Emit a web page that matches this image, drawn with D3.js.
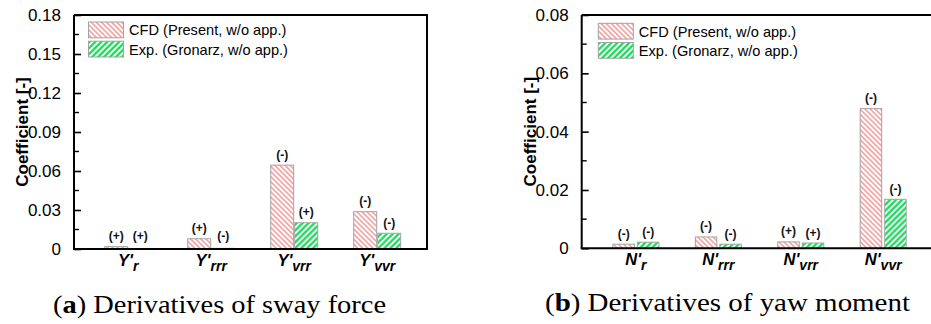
<!DOCTYPE html>
<html>
<head>
<meta charset="utf-8">
<script src="https://cdn.jsdelivr.net/npm/d3@7"></script>
<style>
  html, body { margin: 0; padding: 0; background: #fff; }
  svg { display: block; }
</style>
</head>
<body>
<svg id="chart" width="931" height="324"></svg>
<script>
// Hydrodynamic derivative magnitudes (CFD vs. experiment)
const swayCategories = ["r", "rrr", "vrr", "vvr"];
const swayCFD = [0.0018, 0.0079, 0.0645, 0.0287];
const swayExp = [0.0002, 0.0005, 0.0202, 0.0121];
const swayCFDSign = ["(+)", "(+)", "(-)", "(-)"];
const swayExpSign = ["(+)", "(-)", "(+)", "(-)"];
const swayTicks = [0, 0.03, 0.06, 0.09, 0.12, 0.15, 0.18];

const yawCategories = ["r", "rrr", "vrr", "vvr"];
const yawCFD = [0.0014, 0.0039, 0.0022, 0.0479];
const yawExp = [0.0021, 0.0014, 0.0018, 0.0168];
const yawCFDSign = ["(-)", "(-)", "(+)", "(-)"];
const yawExpSign = ["(-)", "(-)", "(+)", "(-)"];
const yawTicks = [0, 0.02, 0.04, 0.06, 0.08];

const seriesNames = ["CFD (Present, w/o app.)", "Exp. (Gronarz, w/o app.)"];
const captions = [["a", " Derivatives of sway force"], ["b", " Derivatives of yaw moment"]];

const svg = d3.select("#chart");
const SANS = "'Liberation Sans', Arial, sans-serif";
const SERIF = "'Liberation Serif', 'Times New Roman', serif";

// hatch fills
const defs = svg.append("defs");
function hatch(id, color, angle, spacing, lw) {
  const p = defs.append("pattern")
    .attr("id", id)
    .attr("patternUnits", "userSpaceOnUse")
    .attr("width", spacing).attr("height", spacing)
    .attr("patternTransform", `rotate(${angle})`);
  p.append("rect").attr("width", spacing).attr("height", spacing).attr("fill", "#fff");
  p.append("line")
    .attr("x1", spacing / 2).attr("y1", 0)
    .attr("x2", spacing / 2).attr("y2", spacing)
    .attr("stroke", color).attr("stroke-width", lw);
}
hatch("hatchRed", "#f08888", -45, 3.6, 1.3);
hatch("hatchGreen", "#10dc55", 45, 4.2, 2.2);
const fills = ["url(#hatchRed)", "url(#hatchGreen)"];

function panel(cfg) {
  const g = svg.append("g");
  const y = d3.scaleLinear().domain([0, cfg.ticks[cfg.ticks.length - 1]]).range([cfg.bottom, cfg.top]);
  const x = d3.scalePoint().domain(cfg.categories).range([cfg.left + 54.2, cfg.right - 49.8]);

  // bars and sign labels
  const series = [cfg.cfd, cfg.exp];
  const signs = [cfg.cfdSign, cfg.expSign];
  series.forEach((vals, s) => {
    const barX = i => x(cfg.categories[i]) + (s === 0 ? -cfg.gap / 2 - cfg.bw : cfg.gap / 2);
    g.selectAll(null).data(vals).enter().append("rect")
      .attr("x", (d, i) => barX(i))
      .attr("y", d => y(d))
      .attr("width", cfg.bw)
      .attr("height", d => y(0) - y(d))
      .attr("fill", fills[s])
      .attr("stroke", "#a3a3a3")
      .attr("stroke-width", 1);
    g.selectAll(null).data(vals).enter().append("text")
      .attr("x", (d, i) => barX(i) + cfg.bw / 2)
      .attr("y", d => Math.min(y(d), y(0) - 3) - 6.5)
      .attr("text-anchor", "middle")
      .attr("font-family", SANS).attr("font-weight", "bold").attr("font-size", 12)
      .attr("fill", "#111")
      .text((d, i) => signs[s][i]);
  });

  // y axis with inward ticks
  const yAxis = d3.axisLeft(y).tickValues(cfg.ticks).tickSizeInner(-7).tickSizeOuter(0)
    .tickPadding(13).tickFormat(d => d === 0 ? "0" : d3.format("." + cfg.dec + "f")(d));
  const ya = g.append("g").attr("transform", `translate(${cfg.left},0)`).call(yAxis);
  ya.select(".domain").remove();
  ya.selectAll("line").attr("stroke", "#000").attr("stroke-width", 1.6);
  ya.selectAll("text").attr("font-family", SANS).attr("font-size", 17).attr("fill", "#000");
  const minors = d3.range(cfg.minor, cfg.ticks[cfg.ticks.length - 1], cfg.minor * 2);
  g.selectAll(null).data(minors).enter().append("line")
    .attr("x1", cfg.left).attr("x2", cfg.left + 5)
    .attr("y1", d => y(d)).attr("y2", d => y(d))
    .attr("stroke", "#000").attr("stroke-width", 1.4);

  // frame
  const fr = g.append("g").attr("stroke", "#000").attr("stroke-width", 2).attr("fill", "none");
  fr.append("line").attr("x1", cfg.left).attr("x2", cfg.left).attr("y1", cfg.top).attr("y2", cfg.bottom);
  fr.append("line").attr("x1", cfg.left).attr("x2", cfg.frameRight).attr("y1", cfg.top).attr("y2", cfg.top);
  fr.append("line").attr("x1", cfg.left - 1).attr("x2", cfg.frameRight).attr("y1", cfg.bottom).attr("y2", cfg.bottom);
  if (cfg.frameRight < 931) {
    fr.append("line").attr("x1", cfg.frameRight).attr("x2", cfg.frameRight).attr("y1", cfg.top - 1).attr("y2", cfg.bottom + 1);
  }

  // x category labels: prefix with subscript
  cfg.categories.forEach(c => {
    const t = g.append("text")
      .attr("x", x(c)).attr("y", cfg.bottom + 17)
      .attr("text-anchor", "middle")
      .attr("font-family", SANS).attr("font-weight", "bold").attr("font-style", "italic")
      .attr("font-size", 16.5).attr("fill", "#000");
    t.append("tspan").text(cfg.prefix + "'");
    t.append("tspan").attr("font-size", 14).attr("dy", 5).text(c);
  });

  // y title
  g.append("text")
    .attr("transform", `translate(${cfg.titleX},${(cfg.top + cfg.bottom) / 2}) rotate(-90)`)
    .attr("text-anchor", "middle")
    .attr("font-family", SANS).attr("font-weight", "bold").attr("font-size", 17)
    .attr("fill", "#000")
    .text("Coefficient [-]");

  // legend
  const lg = g.append("g").attr("transform", `translate(${cfg.left + cfg.legDx},${cfg.top + cfg.legDy})`);
  seriesNames.forEach((name, i) => {
    lg.append("rect").attr("x", 0).attr("y", i * 19.2).attr("width", 35).attr("height", 15.8)
      .attr("fill", fills[i]).attr("stroke", "#a3a3a3").attr("stroke-width", 1);
    lg.append("text").attr("x", 40.5).attr("y", i * 19.2 + 13.4)
      .attr("font-family", SANS).attr("font-size", 14.6).attr("fill", "#000")
      .text(name);
  });

  // caption
  const cap = svg.append("text")
    .attr("x", cfg.capX).attr("y", cfg.capY)
    .attr("font-family", SERIF).attr("font-size", 25).attr("fill", "#000")
    .attr("textLength", cfg.capW).attr("lengthAdjust", "spacingAndGlyphs");
  cap.append("tspan").text("(");
  cap.append("tspan").attr("font-weight", "bold").text(cfg.caption[0]);
  cap.append("tspan").text(")" + cfg.caption[1]);
}

panel({
  categories: swayCategories, cfd: swayCFD, exp: swayExp,
  cfdSign: swayCFDSign, expSign: swayExpSign, ticks: swayTicks, minor: 0.015, dec: 2,
  left: 74, right: 427, frameRight: 427, top: 15, bottom: 249,
  bw: 23, gap: 1, prefix: "Y", titleX: 28, legDx: 14.5, legDy: 7,
  caption: captions[0], capX: 53, capY: 313, capW: 333
});

panel({
  categories: yawCategories, cfd: yawCFD, exp: yawExp,
  cfdSign: yawCFDSign, expSign: yawExpSign, ticks: yawTicks, minor: 0.01, dec: 2,
  left: 581.7, right: 933, frameRight: 940, top: 15, bottom: 248.3,
  bw: 21.5, gap: 3, prefix: "N", titleX: 536, legDx: 16.6, legDy: 8.3,
  caption: captions[1], capX: 545, capY: 311, capW: 365
});
</script>
</body>
</html>
